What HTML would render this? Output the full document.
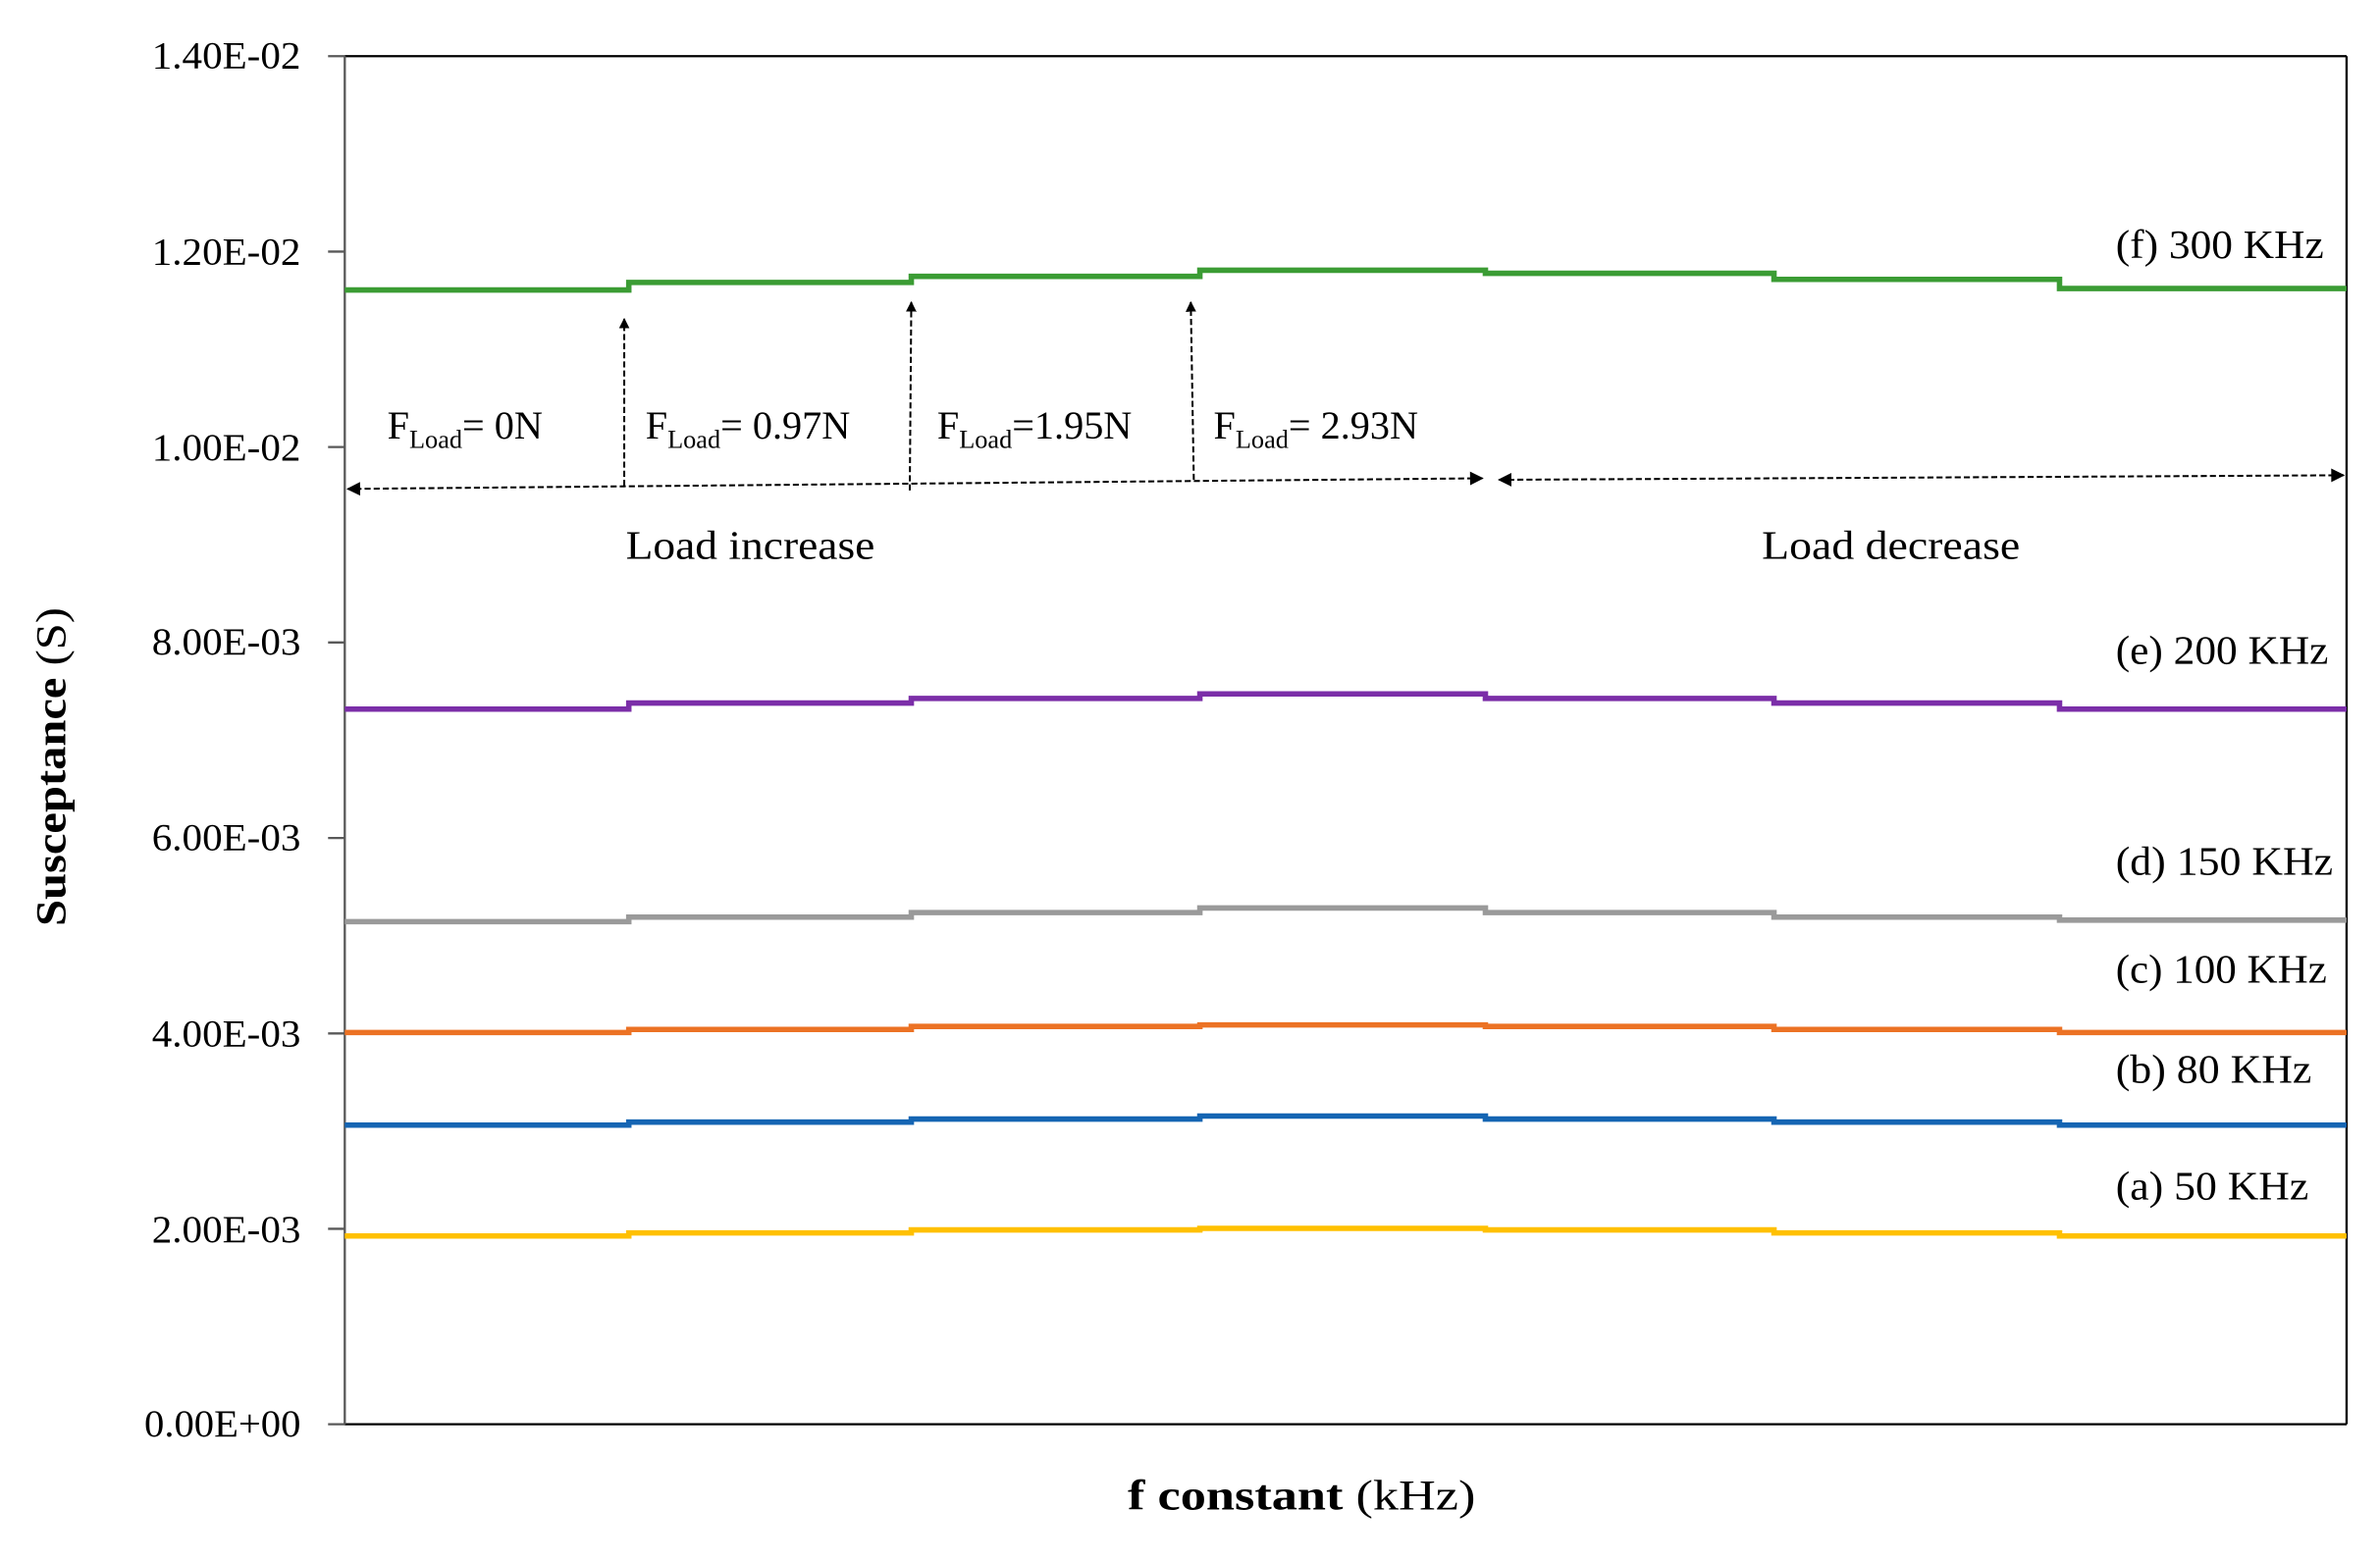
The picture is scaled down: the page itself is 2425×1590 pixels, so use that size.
<!DOCTYPE html>
<html><head><meta charset="utf-8"><style>
html,body{margin:0;padding:0;background:#fff;}
svg{display:block;}
text{font-family:"Liberation Serif",serif;fill:#000;}
</style></head><body>
<svg width="2425" height="1590" viewBox="0 0 1567 1027.4" preserveAspectRatio="none">
<defs>
<marker id="ah" viewBox="0 0 10 10" refX="9" refY="5" markerWidth="7" markerHeight="7" orient="auto-start-reverse" markerUnits="userSpaceOnUse"><path d="M0,0 L10,5 L0,10 z" fill="#000"/></marker>
<marker id="ah2" viewBox="0 0 10 10" refX="9" refY="5" markerWidth="10" markerHeight="9" orient="auto-start-reverse" markerUnits="userSpaceOnUse"><path d="M0,0 L10,5 L0,10 z" fill="#000"/></marker>
</defs>
<line x1="227" y1="37" x2="1545" y2="37" stroke="#000" stroke-width="1.5"/>
<line x1="1545" y1="37" x2="1545" y2="938" stroke="#000" stroke-width="1.5"/>
<line x1="227" y1="938" x2="1545" y2="938" stroke="#000" stroke-width="1.5"/>
<line x1="227" y1="37" x2="227" y2="938" stroke="#595959" stroke-width="1.5"/>
<g stroke="#595959" stroke-width="1.5">
<line x1="216" y1="37" x2="227" y2="37"/><line x1="216" y1="165.7" x2="227" y2="165.7"/>
<line x1="216" y1="294.4" x2="227" y2="294.4"/><line x1="216" y1="423.1" x2="227" y2="423.1"/>
<line x1="216" y1="551.9" x2="227" y2="551.9"/><line x1="216" y1="680.6" x2="227" y2="680.6"/>
<line x1="216" y1="809.3" x2="227" y2="809.3"/><line x1="216" y1="938" x2="227" y2="938"/>
</g>
<g font-size="25" text-anchor="end" lengthAdjust="spacingAndGlyphs">
<text x="198" y="45" textLength="98" lengthAdjust="spacingAndGlyphs">1.40E-02</text>
<text x="198" y="174" textLength="98" lengthAdjust="spacingAndGlyphs">1.20E-02</text>
<text x="198" y="303" textLength="98" lengthAdjust="spacingAndGlyphs">1.00E-02</text>
<text x="198" y="431" textLength="98" lengthAdjust="spacingAndGlyphs">8.00E-03</text>
<text x="198" y="560" textLength="98" lengthAdjust="spacingAndGlyphs">6.00E-03</text>
<text x="198" y="689" textLength="98" lengthAdjust="spacingAndGlyphs">4.00E-03</text>
<text x="198" y="818" textLength="98" lengthAdjust="spacingAndGlyphs">2.00E-03</text>
<text x="198" y="946" textLength="103" lengthAdjust="spacingAndGlyphs">0.00E+00</text>
</g>
<text transform="translate(43,505) rotate(-90)" font-size="28" font-weight="bold" text-anchor="middle" textLength="210" lengthAdjust="spacingAndGlyphs">Susceptance <tspan font-weight="normal">(S)</tspan></text>
<text x="857" y="994" font-size="28" text-anchor="middle" textLength="229" lengthAdjust="spacingAndGlyphs"><tspan font-weight="bold">f  constant</tspan> (kHz)</text>
<g fill="none" stroke-width="3.6">
<polyline stroke="#3b9c34" points="227,191 414,191 414,186 600,186 600,182 790,182 790,178 978,178 978,180 1168,180 1168,184 1356,184 1356,190 1545,190"/>
<polyline stroke="#7b2ea8" points="227,467 414,467 414,463 600,463 600,460 790,460 790,457 978,457 978,460 1168,460 1168,463 1356,463 1356,467 1545,467"/>
<polyline stroke="#9a9a9a" points="227,607 414,607 414,604 600,604 600,601 790,601 790,598 978,598 978,601 1168,601 1168,604 1356,604 1356,606 1545,606"/>
<polyline stroke="#ec7224" points="227,680 414,680 414,678 600,678 600,676 790,676 790,675 978,675 978,676 1168,676 1168,678 1356,678 1356,680 1545,680"/>
<polyline stroke="#1565b3" points="227,741 414,741 414,739 600,739 600,737 790,737 790,735 978,735 978,737 1168,737 1168,739 1356,739 1356,741 1545,741"/>
<polyline stroke="#ffc000" points="227,814 414,814 414,812 600,812 600,810 790,810 790,809 978,809 978,810 1168,810 1168,812 1356,812 1356,814 1545,814"/>
</g>
<g font-size="27">
<text x="1393" y="170" textLength="137" lengthAdjust="spacingAndGlyphs">(f) 300 KHz</text>
<text x="1393" y="437" textLength="140" lengthAdjust="spacingAndGlyphs">(e) 200 KHz</text>
<text x="1393" y="576" textLength="143" lengthAdjust="spacingAndGlyphs">(d) 150 KHz</text>
<text x="1393" y="647" textLength="139" lengthAdjust="spacingAndGlyphs">(c) 100 KHz</text>
<text x="1393" y="713" textLength="129" lengthAdjust="spacingAndGlyphs">(b) 80 KHz</text>
<text x="1393" y="790" textLength="127" lengthAdjust="spacingAndGlyphs">(a) 50 KHz</text>
<text x="412" y="368" textLength="164" lengthAdjust="spacingAndGlyphs">Load increase</text>
<text x="1160" y="368" textLength="170" lengthAdjust="spacingAndGlyphs">Load decrease</text>
</g>
<g stroke="#000" stroke-width="1.3" stroke-dasharray="4,2" fill="none">
<line x1="976" y1="315" x2="229" y2="322" marker-end="url(#ah2)" marker-start="url(#ah2)"/>
<line x1="987" y1="316" x2="1543" y2="313" marker-end="url(#ah2)" marker-start="url(#ah2)"/>
<line x1="411" y1="320" x2="411" y2="210" marker-end="url(#ah)"/>
<line x1="599" y1="323" x2="600" y2="199" marker-end="url(#ah)"/>
<line x1="786" y1="316" x2="784" y2="199" marker-end="url(#ah)"/>
</g>
<g font-size="26">
<text x="255" y="289">F<tspan font-size="17" dy="6">Load</tspan><tspan dy="-6">= 0N</tspan></text>
<text x="425" y="289">F<tspan font-size="17" dy="6">Load</tspan><tspan dy="-6">= 0.97N</tspan></text>
<text x="617" y="289">F<tspan font-size="17" dy="6">Load</tspan><tspan dy="-6">=1.95N</tspan></text>
<text x="799" y="289">F<tspan font-size="17" dy="6">Load</tspan><tspan dy="-6">= 2.93N</tspan></text>
</g>
</svg>
</body></html>
